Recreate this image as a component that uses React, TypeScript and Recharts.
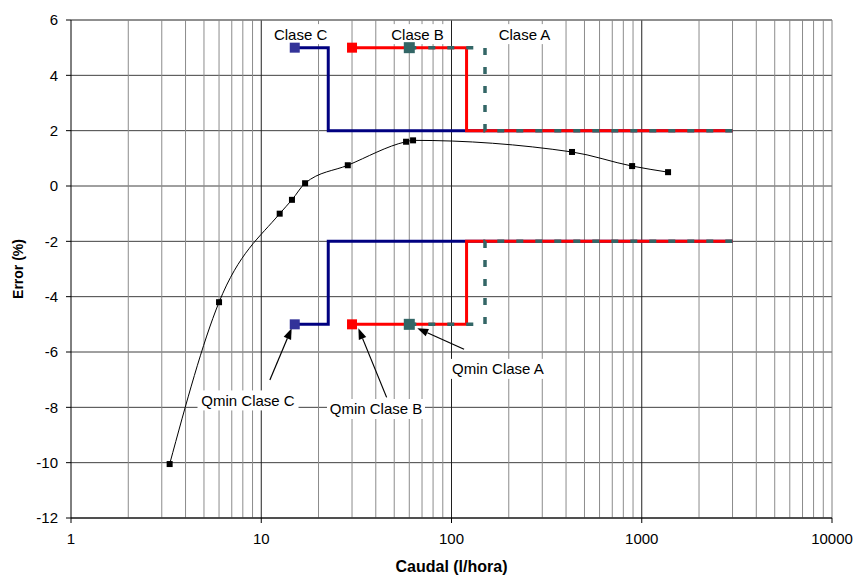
import React from "react";
import {
  ComposedChart,
  Line,
  XAxis,
  YAxis,
  CartesianGrid,
  ReferenceLine,
  ReferenceDot,
  Label,
} from "recharts";

// curva de error medida del contador
const caudalMedido = [3.3, 6, 12.5, 14.5, 17, 28.5, 57.7, 62.8, 430, 890, 1375];
const errorMedido = [-10.05, -4.2, -1.0, -0.5, 0.1, 0.75, 1.6, 1.65, 1.23, 0.72, 0.5];

// Qmin, Qt, Qmax de cada clase (l/hora)
const claseC = [15, 22.5, 3000];
const claseB = [30, 120, 3000];
const claseA = [60, 150, 3000];
// error máximo admisible: zona inferior, zona superior (%)
const emaZonas = [5, 2];

const xTicks = [1, 10, 100, 1000, 10000];
const yTicks = [-12, -10, -8, -6, -4, -2, 0, 2, 4, 6];
const decadas = [1, 10, 100, 1000];

const rotulosClase = [
  { text: "Clase C", x: 16.1, y: 5.49, w: 64 },
  { text: "Clase B", x: 66.3, y: 5.49, w: 62 },
  { text: "Clase A", x: 242, y: 5.49, w: 62 },
];
const rotulosQmin = [
  { text: "Qmin Clase C", x: 8.52, y: -7.75, w: 101 },
  { text: "Qmin Clase B", x: 40.1, y: -8.06, w: 98 },
  { text: "Qmin Clase A", x: 175.5, y: -6.61, w: 96 },
];
const flechas = [
  { from: { x: 11.1, y: -7.01 }, to: { x: 14.45, y: -5.14 } },
  { from: { x: 45.6, y: -7.64 }, to: { x: 32.4, y: -5.14 } },
  { from: { x: 116.4, y: -5.9 }, to: { x: 66.1, y: -5.14 } },
];

const medida = caudalMedido.map((x, i) => ({ x, y: errorMedido[i] }));

const escalon = (q: number[], s: number) => [
  { x: q[0], y: s * emaZonas[0] },
  { x: q[1], y: s * emaZonas[0] },
  { x: q[1], y: s * emaZonas[1] },
  { x: q[2], y: s * emaZonas[1] },
];

const minorGrid = decadas.flatMap((d) => [2, 3, 4, 5, 6, 7, 8, 9].map((m) => m * d));
const majorGrid = [10, 100, 1000];

const squareDot = (size: number, color: string, onlyFirst: boolean) => (props: any) => {
  const { cx, cy, index } = props;
  if (onlyFirst && index !== 0) return <g key={`d-${index}`} />;
  return (
    <rect
      key={`d-${index}`}
      x={cx - size / 2}
      y={cy - size / 2}
      width={size}
      height={size}
      fill={color}
    />
  );
};

const Flecha = (props: any) => {
  const { x1, y1, x2, y2 } = props;
  const ang = Math.atan2(y2 - y1, x2 - x1);
  const len = 11;
  const half = 4;
  const bx = x2 - len * Math.cos(ang);
  const by = y2 - len * Math.sin(ang);
  const px = -Math.sin(ang) * half;
  const py = Math.cos(ang) * half;
  return (
    <g>
      <line x1={x1} y1={y1} x2={bx} y2={by} stroke="#000" strokeWidth={1.2} />
      <polygon
        points={`${x2},${y2} ${bx + px},${by + py} ${bx - px},${by - py}`}
        fill="#000"
      />
    </g>
  );
};

const rotulo = (text: string, w: number) => (props: any) => {
  const { cx, cy } = props;
  return (
    <g>
      <rect x={cx - w / 2} y={cy - 10} width={w} height={20} fill="#fff" />
      <text
        x={cx}
        y={cy}
        textAnchor="middle"
        dominantBaseline="central"
        fontSize={15}
        fill="#000"
      >
        {text}
      </text>
    </g>
  );
};

export default function App() {
  return (
    <div
      style={{
        position: "absolute",
        left: 0,
        top: 0,
        width: 858,
        height: 577,
        background: "#fff",
        fontFamily: "Arial, 'Liberation Sans', sans-serif",
      }}
    >
      <ComposedChart
        width={858}
        height={577}
        margin={{ top: 20, right: 26, bottom: 0, left: 0 }}
      >
        <CartesianGrid horizontal vertical={false} stroke="#404040" />
        <XAxis
          dataKey="x"
          type="number"
          scale="log"
          domain={[1, 10000]}
          ticks={xTicks}
          height={59}
          tick={{ fill: "#000", fontSize: 15 }}
          tickSize={5}
          tickMargin={10}
          axisLine={{ stroke: "#000" }}
          tickLine={{ stroke: "#000" }}
        >
          <Label
            value="Caudal (l/hora)"
            position="insideBottom"
            offset={5}
            style={{ fontWeight: "bold", fontSize: 16, fill: "#000" }}
          />
        </XAxis>
        <YAxis
          type="number"
          domain={[-12, 6]}
          ticks={yTicks}
          width={71}
          tick={{ fill: "#000", fontSize: 15 }}
          tickSize={5}
          tickMargin={8}
          axisLine={{ stroke: "#000" }}
          tickLine={{ stroke: "#000" }}
        >
          <Label
            content={(p: any) => {
              const vb = p.viewBox;
              const cy = vb.y + vb.height / 2;
              return (
                <text
                  x={18}
                  y={cy}
                  transform={`rotate(-90 18 ${cy})`}
                  textAnchor="middle"
                  dominantBaseline="central"
                  fontSize={14}
                  fontWeight="bold"
                  fill="#000"
                >
                  Error (%)
                </text>
              );
            }}
          />
        </YAxis>

        {minorGrid.map((v) => (
          <ReferenceLine key={`mg-${v}`} x={v} stroke="#8c8c8c" />
        ))}
        {majorGrid.map((v) => (
          <ReferenceLine key={`Mg-${v}`} x={v} stroke="#202020" />
        ))}
        <ReferenceLine y={6} stroke="#808080" />
        <ReferenceLine x={10000} stroke="#808080" />

        {rotulosClase.map((r) => (
          <ReferenceDot key={r.text} x={r.x} y={r.y} shape={rotulo(r.text, r.w)} />
        ))}

        <Line
          data={medida}
          dataKey="y"
          type="monotone"
          stroke="#000"
          strokeWidth={1}
          dot={squareDot(6, "#000", false)}
          activeDot={false}
          isAnimationActive={false}
        />
        <Line
          data={escalon(claseC, 1)}
          dataKey="y"
          stroke="#000080"
          strokeWidth={3}
          dot={squareDot(10, "#333399", true)}
          activeDot={false}
          isAnimationActive={false}
        />
        <Line
          data={escalon(claseC, -1)}
          dataKey="y"
          stroke="#000080"
          strokeWidth={3}
          dot={squareDot(10, "#333399", true)}
          activeDot={false}
          isAnimationActive={false}
        />
        <Line
          data={escalon(claseB, 1)}
          dataKey="y"
          stroke="#ff0000"
          strokeWidth={3}
          dot={squareDot(10, "#ff0000", true)}
          activeDot={false}
          isAnimationActive={false}
        />
        <Line
          data={escalon(claseB, -1)}
          dataKey="y"
          stroke="#ff0000"
          strokeWidth={3}
          dot={squareDot(10, "#ff0000", true)}
          activeDot={false}
          isAnimationActive={false}
        />
        <Line
          data={escalon(claseA, 1)}
          dataKey="y"
          stroke="#336666"
          strokeWidth={3.5}
          strokeDasharray="7 12"
          dot={squareDot(11, "#336666", true)}
          activeDot={false}
          isAnimationActive={false}
        />
        <Line
          data={escalon(claseA, -1)}
          dataKey="y"
          stroke="#336666"
          strokeWidth={3.5}
          strokeDasharray="7 12"
          dot={squareDot(11, "#336666", true)}
          activeDot={false}
          isAnimationActive={false}
        />

        {flechas.map((f, i) => (
          <ReferenceLine
            key={`fl-${i}`}
            segment={[f.from, f.to]}
            shape={Flecha}
            ifOverflow="visible"
          />
        ))}
        {rotulosQmin.map((r) => (
          <ReferenceDot key={r.text} x={r.x} y={r.y} shape={rotulo(r.text, r.w)} />
        ))}
      </ComposedChart>
    </div>
  );
}
